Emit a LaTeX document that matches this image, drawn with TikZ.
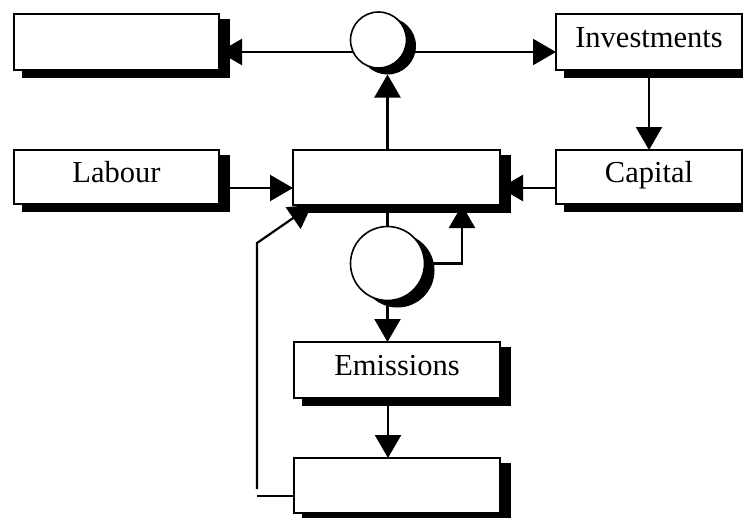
\documentclass[tikz,border=0pt]{standalone}
\usepackage{fontspec}
\setmainfont{Liberation Serif}
\usetikzlibrary{arrows.meta,calc}
\pgfdeclarelayer{bg}
\pgfdeclarelayer{shadowlayer}
\pgfsetlayers{bg,shadowlayer,main}
\tikzset{
  box/.style={draw=black, fill=white, line width=1.4pt, inner sep=0pt, outer sep=0pt,
    text height=20pt, text depth=10pt,
    font=\fontsize{30.5}{36}\selectfont},
  circ/.style={circle, draw=black, fill=white, line width=1.6pt, inner sep=0pt, outer sep=0pt},
  circshadow/.style={circle, fill=black, inner sep=0pt, outer sep=0pt},
  conn/.style={line width=2.2pt, -{Triangle[length=23pt,width=26pt]}},
  plain/.style={line width=2.2pt},
}
\newcommand{\boxshadow}[1]{%
  \fill ([shift={(8pt,-5pt)}]#1.north west) rectangle ([shift={(11pt,-8pt)}]#1.south east);}
\begin{document}
\begin{tikzpicture}[x=1pt,y=-1pt]
\useasboundingbox (0,0) rectangle (743,517);
% boxes
\node[box, minimum width=205pt, minimum height=56pt] (B1) at (116.5,42) {};
\node[box, minimum width=205pt, minimum height=54pt] (Lab) at (116.5,177) {Labour};
\node[box, minimum width=207pt, minimum height=55pt] (Cen) at (396.5,177.5) {};
\node[box, minimum width=186pt, minimum height=56pt] (Inv) at (649,42) {Investments};
\node[box, minimum width=186pt, minimum height=54pt] (Cap) at (649,177) {Capital};
\node[box, minimum width=206pt, minimum height=56pt] (Emi) at (397,370) {Emissions};
\node[box, minimum width=206pt, minimum height=55pt] (Bot) at (397,485.5) {};
% circles
\node[circ, minimum size=56pt] (topc) at (378.5,40) {};
\node[circ, minimum size=74pt] (lowc) at (387.5,263.5) {};
\begin{pgfonlayer}{shadowlayer}
  \node[circshadow, minimum size=57pt] (topcs) at (387.5,46) {};
  \node[circshadow, minimum size=74pt] (lowcs) at (397.5,270.5) {};
  \boxshadow{B1}
  \boxshadow{Lab}
  \boxshadow{Cen}
  \boxshadow{Inv}
  \boxshadow{Cap}
  \boxshadow{Emi}
  \boxshadow{Bot}
\end{pgfonlayer}
\coordinate (fbA) at (257,496);
\coordinate (fbB) at (257,489);
\coordinate (fbC) at (257,243);
\begin{pgfonlayer}{bg}
  \draw[conn] ([yshift=-12pt]topc.center) -- ([yshift=-10pt]B1.east);
  \draw[conn] ([yshift=-12pt]topc.center) -- ([yshift=-10pt]Inv.west);
  \draw[conn] (Cen.north -| topcs.south) -- (topcs.south);
  \draw[conn] (Inv.south) -- (Cap.north);
  \draw[conn] ([yshift=-11pt]Lab.east) -- ([yshift=-11pt]Lab.east -| Cen.west);
  \draw[conn] ([yshift=-11pt]Cap.west) -- ([yshift=-11pt]Cap.west -| Cen.east);
  \draw[plain] (Cen.south -| lowc.north) -- (lowc.north);
  \draw[conn] (lowc.east) -| ([xshift=65.5pt]Cen.south);
  \draw[conn] (lowc.south) -- (lowc.south |- Emi.north);
  \draw[conn] ([xshift=-9pt]Emi.south) -- ([xshift=-9pt]Bot.north);
  \draw[plain] ([yshift=-10.5pt]Bot.west) -- (fbA);
  \draw[conn] (fbB) -- (fbC) -- ([xshift=19pt]Cen.south west);
\end{pgfonlayer}
\end{tikzpicture}
\end{document}
